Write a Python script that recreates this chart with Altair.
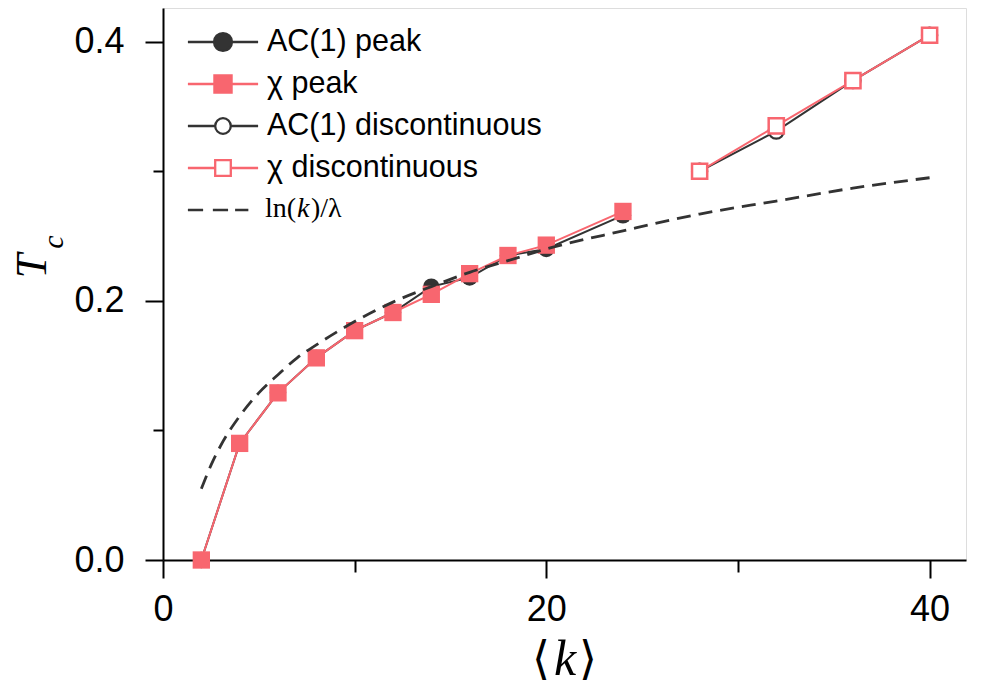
import altair as alt
import pandas as pd

# ---------------- data ----------------
k_peak = [2, 4, 6, 8, 10, 12, 14, 16, 18, 20, 24]
ac_peak = [0.0, 0.090, 0.129, 0.156, 0.177, 0.191, 0.211, 0.218, 0.235, 0.240, 0.266]
chi_peak = [0.0, 0.090, 0.129, 0.156, 0.177, 0.191, 0.205, 0.221, 0.235, 0.243, 0.269]

k_disc = [28, 32, 36, 40]
ac_disc = [0.300, 0.331, 0.370, 0.405]
chi_disc = [0.300, 0.335, 0.370, 0.405]

k_theory = [2, 2.5, 3, 4, 5, 6, 7, 8, 10, 12, 14, 16, 18, 20, 24, 28, 32, 36, 40]
t_theory = [0.055, 0.073, 0.088, 0.111, 0.129, 0.143, 0.156, 0.166, 0.184, 0.199,
            0.211, 0.222, 0.231, 0.240, 0.254, 0.267, 0.277, 0.287, 0.295]

legend_names = ["AC(1) peak", "χ peak", "AC(1) discontinuous", "χ discontinuous", "ln(k)/λ"]
x_ticks = [0, 10, 20, 30, 40]
y_ticks = [0.0, 0.1, 0.2, 0.3, 0.4]

BLACK = "#333333"
PINK = "#F8666F"

# ---------------- scales / axes ----------------
xscale = alt.Scale(domain=[0, 41.9], nice=False, zero=False)
yscale = alt.Scale(domain=[0, 0.426], nice=False, zero=False)

xaxis = alt.Axis(
    values=x_ticks, title=None, grid=False,
    labelExpr="datum.value % 20 === 0 ? datum.label : ''",
    tickSize={"condition": {"test": "datum.value % 20 === 0", "value": 18}, "value": 12},
    labelFont="Liberation Sans", labelFontSize=36, labelColor="black",
    labelPadding=14, tickColor="black", tickWidth=2, domainColor="black", domainWidth=2,
    labelFlush=False, labelOverlap=False,
)
yaxis = alt.Axis(
    values=y_ticks, title=None, grid=False,
    labelExpr="round(datum.value*10) % 2 === 0 ? format(datum.value, '.1f') : ''",
    tickSize={"condition": {"test": "round(datum.value*10) % 2 === 0", "value": 18}, "value": 10},
    labelFont="Liberation Sans", labelFontSize=36, labelColor="black",
    labelPadding=21, tickColor="black", tickWidth=2, domainColor="black", domainWidth=2,
    labelFlush=False, labelOverlap=False,
)

X = alt.X("k:Q", scale=xscale, axis=xaxis)
Y = alt.Y("t:Q", scale=yscale, axis=yaxis)

df_ac_peak = pd.DataFrame({"k": k_peak, "t": ac_peak})
df_chi_peak = pd.DataFrame({"k": k_peak, "t": chi_peak})
df_ac_disc = pd.DataFrame({"k": k_disc, "t": ac_disc})
df_chi_disc = pd.DataFrame({"k": k_disc, "t": chi_disc})
df_theory = pd.DataFrame({"k": k_theory, "t": t_theory})

line_ac_peak = alt.Chart(df_ac_peak).mark_line(color=BLACK, strokeWidth=2).encode(x=X, y=Y)
pts_ac_peak = alt.Chart(df_ac_peak).mark_point(
    shape="circle", filled=True, size=270, color=BLACK, opacity=1).encode(x=X, y=Y)
line_chi_peak = alt.Chart(df_chi_peak).mark_line(color=PINK, strokeWidth=2).encode(x=X, y=Y)
pts_chi_peak = alt.Chart(df_chi_peak).mark_point(
    shape="square", filled=True, size=300, color=PINK, opacity=1).encode(x=X, y=Y)

line_ac_disc = alt.Chart(df_ac_disc).mark_line(color=BLACK, strokeWidth=2).encode(x=X, y=Y)
pts_ac_disc = alt.Chart(df_ac_disc).mark_point(
    shape="circle", filled=False, size=230, stroke=BLACK, fill="white",
    strokeWidth=2.2, opacity=1, fillOpacity=1).encode(x=X, y=Y)
line_chi_disc = alt.Chart(df_chi_disc).mark_line(color=PINK, strokeWidth=2).encode(x=X, y=Y)
pts_chi_disc = alt.Chart(df_chi_disc).mark_point(
    shape="square", filled=False, size=230, stroke=PINK, fill="white",
    strokeWidth=2.5, opacity=1, fillOpacity=1).encode(x=X, y=Y)

theory = alt.Chart(df_theory).mark_line(
    color=BLACK, strokeWidth=2.8, strokeDash=[14, 8], interpolate="monotone").encode(x=X, y=Y)

# ---------------- legend (Vega-Lite legend with custom symbol paths) ----------------
paths = [
    "M-1.8,0H-0.46M0.46,0H1.8M0.46,0A0.46,0.46,0,1,1,-0.46,0A0.46,0.46,0,1,1,0.46,0Z",
    "M-1.8,0H-0.44M0.44,0H1.8M-0.44,-0.44H0.44V0.44H-0.44Z",
    "M-1.8,0H-0.4M0.4,0H1.8M0.4,0A0.4,0.4,0,1,1,-0.4,0A0.4,0.4,0,1,1,0.4,0Z",
    "M-1.8,0H-0.4M0.4,0H1.8M-0.4,-0.4H0.4V0.4H-0.4Z",
    "M-1.8,0H-1.02M-0.52,0H0.26M0.62,0H1.3",
]
legend = alt.Legend(
    title=None, orient="none", legendX=39, legendY=13, padding=0,
    symbolSize=1521, symbolStrokeWidth=2.3, symbolOpacity=1,
    labelFont="Liberation Sans", labelFontSize=30.5, labelColor="black",
    labelOffset=23, labelLimit=500, rowPadding=5,
    labelExpr="datum.label == 'ln(k)/λ' ? '' : datum.label",
)
leg_df = pd.DataFrame({"series": legend_names})
legend_layer = alt.Chart(leg_df).mark_point(opacity=0).encode(
    shape=alt.Shape("series:N", scale=alt.Scale(domain=legend_names, range=paths), legend=legend),
    fill=alt.Fill("series:N", scale=alt.Scale(domain=legend_names,
                  range=[BLACK, PINK, "white", "white", "transparent"]), legend=legend),
    stroke=alt.Stroke("series:N", scale=alt.Scale(domain=legend_names,
                      range=[BLACK, PINK, BLACK, PINK, BLACK]), legend=legend),
)

# ---------------- text pieces (titles, math label) ----------------
one = pd.DataFrame({"a": [0]})


def txt(s, x, y, size, font="Liberation Serif", style="normal", angle=0, align="center"):
    return alt.Chart(one).mark_text(
        text=s, font=font, fontSize=size, fontStyle=style, angle=angle,
        align=align, baseline="middle", color="black",
    ).encode(x=alt.value(x), y=alt.value(y))


texts = [
    txt("T", -130, 258, 44, style="italic", angle=270),
    txt("c", -109, 234, 30, style="italic", angle=270),
    txt("⟨", 378, 652, 46, font="DejaVu Serif"),
    txt("k", 402, 652, 50, style="italic"),
    txt("⟩", 425, 652, 46, font="DejaVu Serif"),
    txt("ln(", 102, 201, 28, align="left"),
    txt("k", 134, 201, 28, style="italic", align="left"),
    txt(")/λ", 148, 201, 28, align="left"),
]

chart = alt.layer(
    line_ac_peak, pts_ac_peak, line_chi_peak, pts_chi_peak,
    line_ac_disc, pts_ac_disc, line_chi_disc, pts_chi_disc,
    theory, legend_layer, *texts,
).properties(
    width=803, height=552,
    autosize=alt.AutoSizeParams(type="none"),
    padding={"left": 155, "top": 0, "right": 23, "bottom": 128},
).configure_view(stroke="black", strokeWidth=2).configure(background="white")

chart.save("out.html", embed_options={"renderer": "svg", "actions": False})
